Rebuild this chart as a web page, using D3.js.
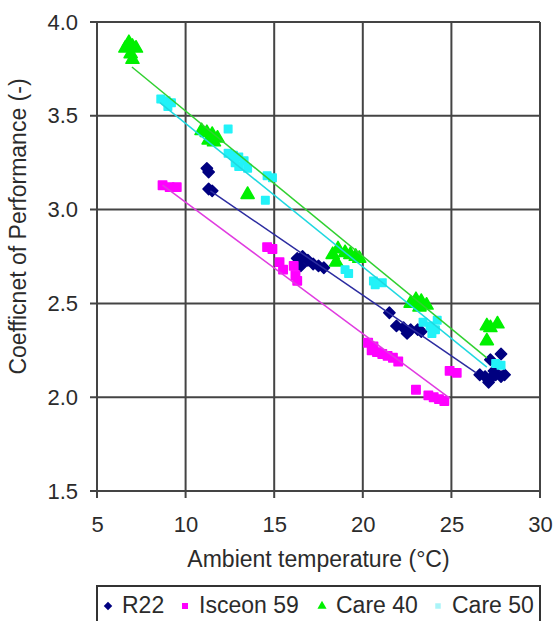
<!DOCTYPE html>
<html>
<head>
<meta charset="utf-8">
<script src="https://cdn.jsdelivr.net/npm/d3@7"></script>
<style>
  body { margin: 0; background: #fff; }
  text { font-family: "Liberation Sans", Arial, sans-serif; fill: #2b2b2b; }
</style>
</head>
<body>
<div id="chart"></div>
<script>
// series names and ticks
var seriesNames = ["R22", "Isceon 59", "Care 40", "Care 50"];
var xTicks = [5, 10, 15, 20, 25, 30];
var yTicks = [1.5, 2.0, 2.5, 3.0, 3.5, 4.0];

// measured points [temp, COP]
var r22 = [[11.2,3.22],[11.3,3.20],[11.3,3.11],[11.5,3.10],
  [16.3,2.74],[16.6,2.75],[16.9,2.73],[17.2,2.71],[17.5,2.70],[17.8,2.69],[16.5,2.70],
  [21.5,2.45],[21.9,2.38],[22.3,2.37],[22.7,2.36],[23.1,2.36],[22.5,2.34],[23.3,2.35],
  [27.8,2.23],[27.2,2.20],
  [26.6,2.12],[26.9,2.11],[27.2,2.10],[27.5,2.12],[27.8,2.11],[28.0,2.12],[27.1,2.08],[27.4,2.14]];
var isceon59 = [[8.7,3.13],[9.1,3.12],[9.5,3.12],
  [14.6,2.80],[14.9,2.79],[15.3,2.72],[15.5,2.68],[16.1,2.70],[16.2,2.65],[16.3,2.62],
  [20.3,2.29],[20.5,2.25],[20.8,2.24],[21.1,2.23],[21.4,2.22],[21.7,2.21],[22.0,2.19],[20.6,2.27],
  [23.0,2.04],[23.7,2.01],[24.0,2.00],[24.3,1.99],[24.6,1.98],
  [24.9,2.14],[25.3,2.13]];
var care40 = [[6.6,3.86],[6.8,3.89],[7.0,3.87],[7.2,3.86],[6.9,3.83],[7.0,3.80],
  [10.9,3.42],[11.2,3.41],[11.5,3.40],[11.8,3.38],[11.3,3.37],[11.6,3.36],
  [13.5,3.08],
  [18.3,2.76],[18.6,2.79],[19.0,2.77],[19.3,2.76],[19.6,2.75],[19.8,2.74],[18.5,2.72],
  [22.7,2.50],[23.0,2.52],[23.3,2.51],[23.6,2.49],[23.2,2.48],
  [27.0,2.38],[27.6,2.39],[27.2,2.37],[27.0,2.30]];
var care50 = [[8.6,3.59],[8.9,3.58],[9.2,3.57],[9.0,3.55],
  [12.4,3.43],
  [12.4,3.30],[12.7,3.29],[13.0,3.28],[13.3,3.26],[13.0,3.23],[13.5,3.22],[12.8,3.25],
  [14.6,3.18],[14.9,3.17],[14.5,3.05],
  [19.0,2.68],[19.2,2.66],[20.6,2.62],[21.1,2.61],[20.7,2.60],
  [23.4,2.40],[23.8,2.38],[24.1,2.36],[23.9,2.34],[24.2,2.41],
  [27.5,2.18],[27.8,2.17]];

// linear trend line ends [temp, COP]
var r22Trend = [[11.4,3.10],[26.4,2.13]];
var isceon59Trend = [[8.7,3.13],[24.9,1.995]];
var care40Trend = [[6.97,3.76],[27.0,2.21]];
var care50Trend = [[8.55,3.57],[27.0,2.16]];

var W = 553, H = 621;
var pLeft = 97, pRight = 540, pTop = 22, pBottom = 491;

var svg = d3.select("#chart").append("svg")
    .attr("width", W).attr("height", H);

var x = d3.scaleLinear().domain([5, 30]).range([pLeft, pRight]);
var y = d3.scaleLinear().domain([1.5, 4.0]).range([pBottom, pTop]);

var gridColor = "#444";

// grid
svg.append("g").selectAll("line")
    .data(xTicks).enter().append("line")
    .attr("x1", function(d){ return x(d); })
    .attr("x2", function(d){ return x(d); })
    .attr("y1", pTop).attr("y2", pBottom + 7)
    .style("stroke", gridColor).style("stroke-width", 2);
svg.append("g").selectAll("line")
    .data(yTicks).enter().append("line")
    .attr("x1", pLeft - 7).attr("x2", pRight)
    .attr("y1", function(d){ return y(d); })
    .attr("y2", function(d){ return y(d); })
    .style("stroke", gridColor).style("stroke-width", 2);

// axis labels
var xAxis = svg.append("g")
    .attr("transform", "translate(0," + pBottom + ")")
    .call(d3.axisBottom(x).tickValues(xTicks).tickFormat(d3.format("d")).tickSize(0).tickPadding(25));
var yAxis = svg.append("g")
    .attr("transform", "translate(" + pLeft + ",0)")
    .call(d3.axisLeft(y).tickValues(yTicks).tickFormat(d3.format(".1f")).tickSize(0).tickPadding(19));
[xAxis, yAxis].forEach(function(a){
  a.select(".domain").remove();
  a.selectAll("text").style("font-size", "22px").style("fill", "#2b2b2b")
    .style("font-family", "'Liberation Sans', Arial, sans-serif");
});

// titles
svg.append("text")
    .attr("x", (pLeft + pRight) / 2).attr("y", 567)
    .style("text-anchor", "middle").style("font-size", "23px")
    .text("Ambient temperature (°C)");
svg.append("text")
    .attr("transform", "translate(26," + ((pTop + pBottom) / 2 - 30) + ") rotate(-90)")
    .style("text-anchor", "middle").style("font-size", "23px")
    .text("Coefficnet of Performance (-)");

// series setup (rot = rotate the symbol, square turned 45 gives the Excel diamond)
var series = [
  {name: seriesNames[0], pts: r22, trend: r22Trend, color: "#000080", line: "#2c2ca0", sym: d3.symbolSquare, rot: 45, size: 64},
  {name: seriesNames[1], pts: isceon59, trend: isceon59Trend, color: "#ff00ff", line: "#e03ce0", sym: d3.symbolSquare, rot: 0, size: 70},
  {name: seriesNames[2], pts: care40, trend: care40Trend, color: "#00f000", line: "#30d030", sym: d3.symbolTriangle, rot: 0, size: 75},
  {name: seriesNames[3], pts: care50, trend: care50Trend, color: "#22f2f8", line: "#20d8e0", sym: d3.symbolSquare, rot: 0, size: 56}
];

var lineGen = d3.line()
    .x(function(d){ return x(d[0]); })
    .y(function(d){ return y(d[1]); });

var plot = svg.append("g");
series.forEach(function(s){
  plot.append("g").selectAll("path")
      .data(s.pts).enter().append("path")
      .attr("d", d3.symbol().type(s.sym).size(s.size))
      .attr("transform", function(d){
        return "translate(" + x(d[0]) + "," + y(d[1]) + ") rotate(" + s.rot + ")";
      })
      .style("fill", s.color)
      .style("stroke", s.color)
      .style("stroke-width", 1.5)
      .style("stroke-linejoin", "round");
});
series.forEach(function(s){
  plot.append("path")
      .datum(s.trend)
      .attr("d", lineGen)
      .style("fill", "none")
      .style("stroke", s.line)
      .style("stroke-width", 1.5);
});

// legend
var legend = svg.append("g");
legend.append("rect")
    .attr("x", 97).attr("y", 586)
    .attr("width", 443).attr("height", 50)
    .style("fill", "white").style("stroke", "#333").style("stroke-width", 2);
var legendX = [108, 185, 322, 438];
series.forEach(function(s, i){
  legend.append("path")
      .attr("d", d3.symbol().type(s.sym).size(i === 3 ? 30 : 36))
      .attr("transform", "translate(" + legendX[i] + ",606) rotate(" + s.rot + ")")
      .style("fill", i === 3 ? "#aaf4f8" : s.color);
  legend.append("text")
      .attr("x", legendX[i] + 14).attr("y", 613)
      .style("font-size", "23px")
      .text(s.name);
});
</script>
</body>
</html>
